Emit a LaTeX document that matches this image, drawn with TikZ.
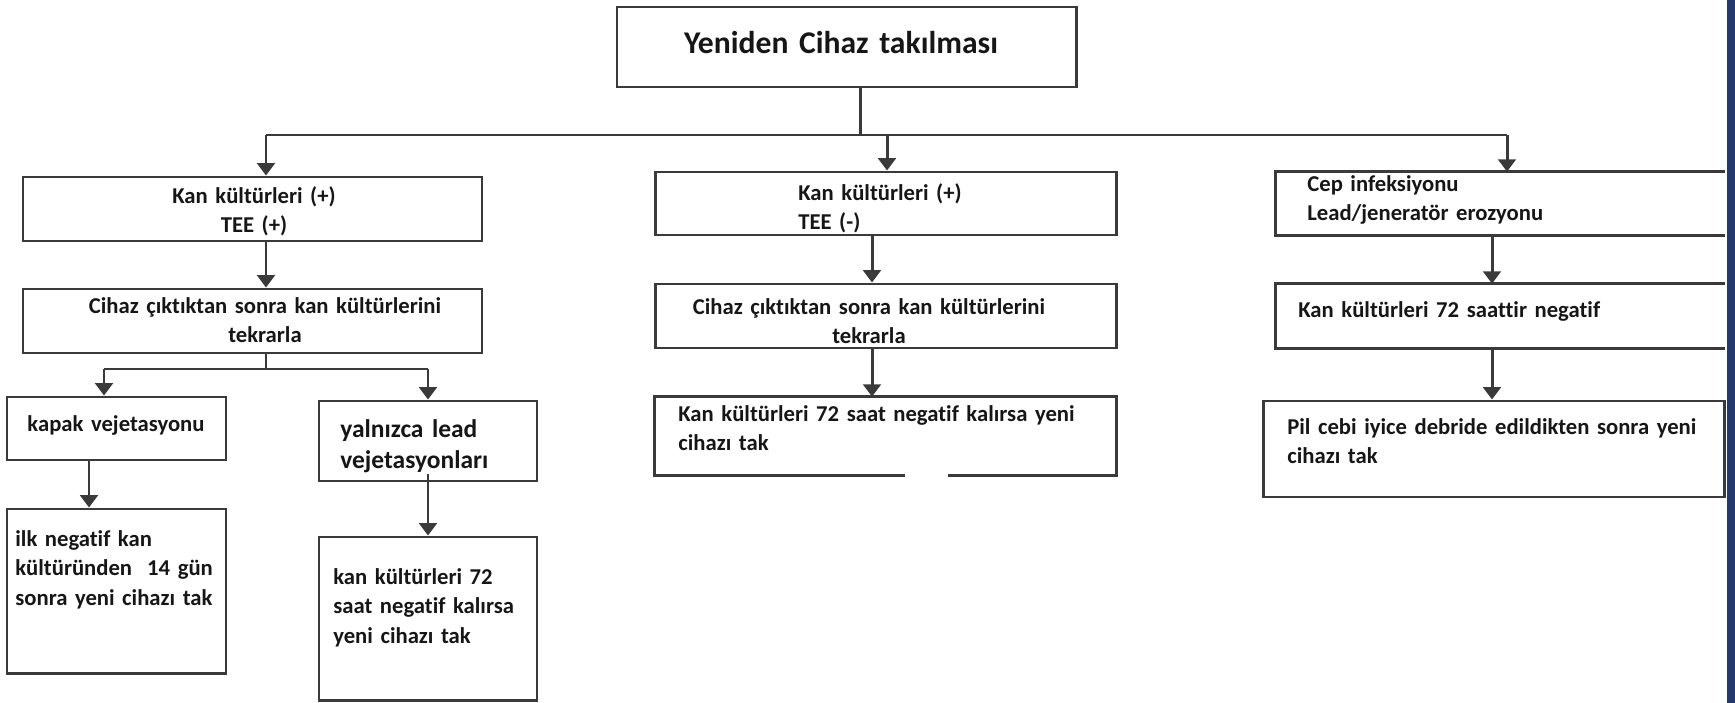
\documentclass[tikz,border=0pt]{standalone}
\usepackage{fontspec}
\setmainfont{Carlito}[Ligatures=CommonOff]
\usepackage{tikz}
\usetikzlibrary{arrows.meta, fit, positioning}
\definecolor{linegray}{HTML}{3A3A3A}
\definecolor{textdark}{HTML}{161616}
\definecolor{bandblue}{HTML}{22396F}

\tikzset{
	box/.style={draw=linegray, line width=1.7pt, inner sep=0pt},
	openbox/.style={inner sep=0pt},
	conn/.style={draw=linegray, line width=1.7pt},
	arr/.style={conn, -{Triangle[width=10pt,length=7pt]}},
	txt/.style={inner sep=0pt, text=textdark, anchor=base west, align=left,
		text width=9cm, font=\fontsize{12.9}{17}\selectfont\bfseries},
	ctxt/.style={txt, anchor=base, align=center},
	titletxt/.style={ctxt, font=\fontsize{18}{22}\selectfont\bfseries}
}

\begin{document}
\begin{tikzpicture}[x=0.02cm, y=-0.02cm]
	
	\useasboundingbox (0,0) rectangle (1735,703);
	\fill[bandblue] (1727,0) rectangle (1735,703);
	
	% Baslik
	\node[box, fit={(617,7) (1076,87)}] (top) {};
	\node[titletxt] (topt) at (841,53) {Yeniden Cihaz takılması};
	
	% Sol kolon
	\node[box, fit={(23,177) (482,241)}] (pp) {};
	\node[ctxt] (ppt) at (254,203) {Kan kültürleri (+)\hspace*{0.92cm}\\TEE (+)};
	\node[box, fit={(23,289) (482,353)}] (pr) {};
	\node[ctxt] (prt) at (265,313) {Cihaz çıktıktan sonra kan kültürlerini\\tekrarla};
	
	\node[box, fit={(7,397) (226,460)}] (kv) {};
	\node[ctxt] (kvt) at (116,431) {kapak vejetasyonu};
	\node[box, fit={(7,509) (226,673)}] (kw) {};
	\node[txt] (kwt) at (15,546) {ilk negatif kan\\kültüründen\ \ 14 gün\\sonra yeni cihazı tak};
	
	\node[box, fit={(319,401) (537,481)}] (lv) {};
	\node[txt, font=\fontsize{14.5}{18.2}\selectfont\bfseries] (lvt) at (340,437) {yalnızca lead\\vejetasyonları};
	\node[box, fit={(319,537) (537,700)}] (lw) {};
	\node[txt] (lwt) at (333,584) {kan kültürleri 72\\saat negatif kalırsa\\yeni cihazı tak};
	
	% Orta kolon
	\node[box, fit={(655,172) (1116,235)}] (mp) {};
	\node[txt] (mpt) at (798,200) {Kan kültürleri (+)\\TEE (-)};
	\node[box, fit={(655,284) (1116,348)}] (mr) {};
	\node[ctxt] (mrt) at (869,314) {Cihaz çıktıktan sonra kan kültürlerini\\tekrarla};
	\node[openbox, fit={(655,397) (1116,475)}] (mn) {};
	\draw[conn] ([xshift=5.86cm]mn.south west) -- (mn.south east) -- (mn.north east)
	-- (mn.north west) -- (mn.south west) -- ([xshift=5cm]mn.south west);
	\node[txt] (mnt) at (678,421) {Kan kültürleri 72 saat negatif kalırsa yeni\\cihazı tak};
	
	% Sag kolon (sag kenar kesik)
	\node[openbox, fit={(1276,172) (1725,235)}] (cp) {};
	\draw[conn] (cp.north east) -- (cp.north west) -- (cp.south west) -- (cp.south east);
	\node[txt] (cpt) at (1307,191) {Cep infeksiyonu\\Lead/jeneratör erozyonu};
	\node[openbox, fit={(1276,284) (1725,348)}] (cn) {};
	\draw[conn] (cn.north east) -- (cn.north west) -- (cn.south west) -- (cn.south east);
	\node[txt] (cnt) at (1298,317) {Kan kültürleri 72 saattir negatif};
	\node[box, fit={(1263,401) (1724,497)}] (pc) {};
	\node[txt] (pct) at (1287,434) {Pil cebi iyice debride edildikten sonra yeni\\cihazı tak};
	
	% Baglantilar
	\coordinate (bus) at (860,135);
	\coordinate (busL) at (266,135);
	\coordinate (busM) at (887,135);
	\coordinate (busR) at (1507,135);
	\draw[conn] (top.south -| bus) -- (bus);
	\draw[conn] (busL) -- (busR);
	\draw[arr] (busL) -- (busL |- pp.north);
	\draw[arr] (busM) -- (busM |- mp.north);
	\draw[arr] (busR) -- (busR |- cp.north);
	
	\draw[arr] (pp.south -| busL) -- (pr.north -| busL);
	\coordinate (subL) at (104,369);
	\coordinate (subR) at (428,369);
	\draw[conn] (pr.south -| busL) -- (busL |- subL);
	\draw[conn] (subL) -- (subR);
	\draw[arr] (subL) -- (subL |- kv.north);
	\draw[arr] (subR) -- (subR |- lv.north);
	\draw[arr] ([xshift=-0.55cm]kv.south) -- ([xshift=-0.55cm]kw.north);
	\draw[arr] ([yshift=0.16cm]lv.south) -- (lw.north);
	
	\draw[arr] ([xshift=-0.27cm]mp.south) -- ([xshift=-0.27cm]mr.north);
	\draw[arr] ([xshift=-0.27cm]mr.south) -- ([xshift=-0.27cm]mn.north);
	
	\draw[arr] ([xshift=-0.17cm]cp.south) -- ([xshift=-0.17cm]cn.north);
	\draw[arr] ([xshift=-0.17cm]cn.south) -- ([xshift=-0.17cm]cn.south |- pc.north);
	
\end{tikzpicture}
\end{document}
